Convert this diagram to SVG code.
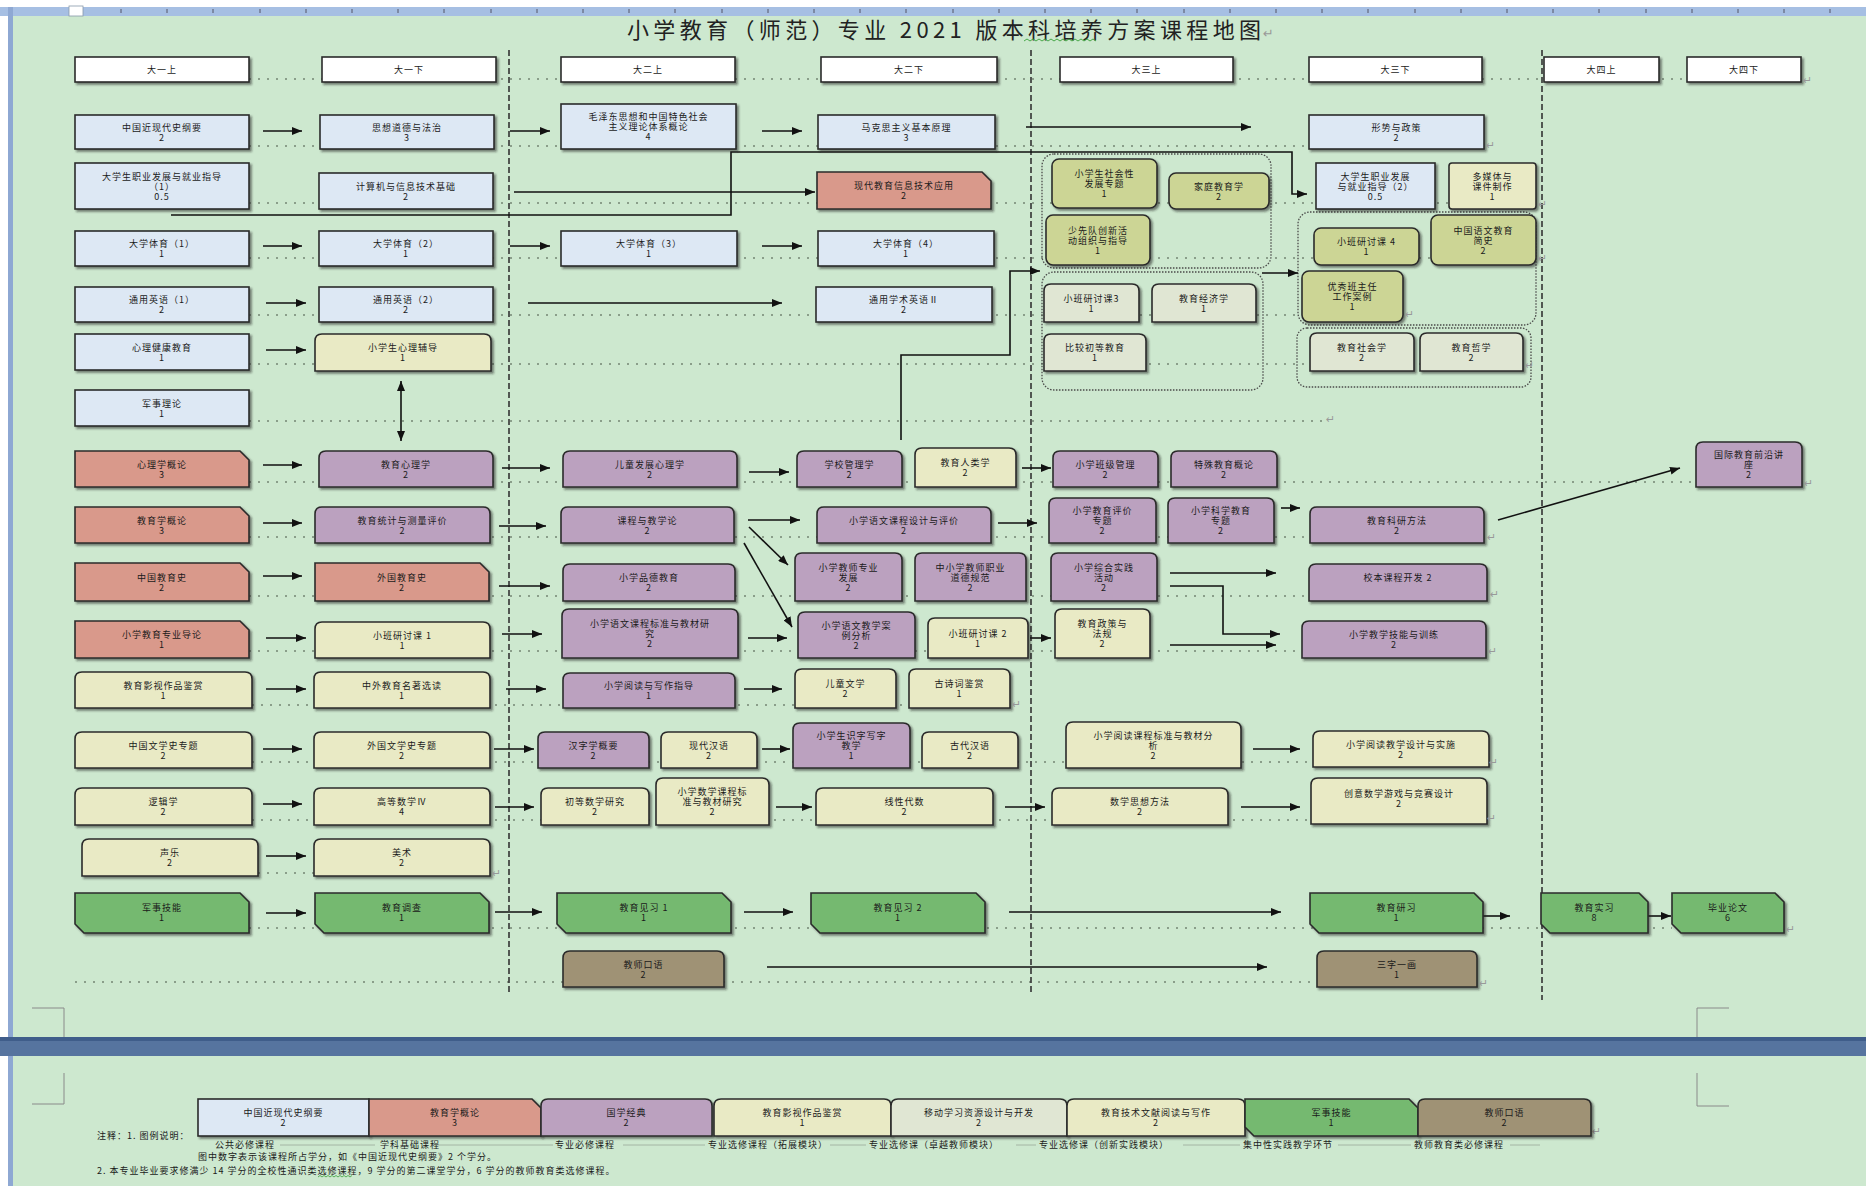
<svg xmlns="http://www.w3.org/2000/svg" width="1866" height="1186" viewBox="0 0 1866 1186">
<defs>
<style>
.n{stroke:#2b2b2b;stroke-width:1.6;filter:url(#sh)}
.lb{fill:#dde8f4}.sa{fill:#d9998b}.pu{fill:#bba1bf}.ye{fill:#e9eac5}.ol{fill:#ccd595}.gg{fill:#e0e6d3}.gr{fill:#74b970}.br{fill:#9f9274}.wh{fill:#ffffff}
.t{font-family:"Noto Sans CJK SC","Noto Sans",sans-serif;font-size:9px;letter-spacing:1px;fill:#1a1a1a;text-anchor:middle}
.tl{font-family:"Noto Sans CJK SC","Noto Sans",sans-serif;font-size:9px;letter-spacing:1px;fill:#1a1a1a}
.c{fill:none;stroke:#111;stroke-width:1.6}
.ld{fill:none;stroke:#8a9e8a;stroke-width:2;stroke-dasharray:2 7}
.sep{fill:none;stroke:#333;stroke-width:1.6;stroke-dasharray:6 3}
.grp{fill:none;stroke:#4a4a4a;stroke-width:1.3;stroke-dasharray:1.5 1.5}
.pm{font-family:"DejaVu Sans",sans-serif;font-size:11px;fill:#999}
.cm{fill:none;stroke:#8a8a8a;stroke-width:1}
</style>
<filter id="sh" x="-10%" y="-10%" width="125%" height="135%">
<feDropShadow dx="2" dy="2" stdDeviation="0.8" flood-color="#222" flood-opacity="0.55"/>
</filter>
<marker id="ah" markerWidth="10" markerHeight="8" refX="10" refY="4" orient="auto-start-reverse" markerUnits="userSpaceOnUse">
<path d="M0,0 L10,4 L0,8 Z" fill="#111"/>
</marker>
</defs>

<!-- page background -->
<rect x="0" y="0" width="1866" height="1186" fill="#ffffff"/>
<rect x="13" y="16" width="1853" height="1021" fill="#cde8cf"/>
<rect x="13" y="1056" width="1853" height="130" fill="#cde8cf"/>
<rect x="0" y="7" width="1866" height="9" fill="#a6bfe3"/>
<path d="M121,9v4M167,9v4M213,9v4M260,9v4M306,9v4M352,9v4M398,9v4M444,9v4M491,9v4M537,9v4M583,9v4M629,9v4M675,9v4M722,9v4M768,9v4M814,9v4M860,9v4M906,9v4M953,9v4M999,9v4M1045,9v4M1091,9v4M1137,9v4M1184,9v4M1230,9v4M1276,9v4M1322,9v4M1368,9v4M1415,9v4M1461,9v4M1507,9v4M1553,9v4M1599,9v4M1646,9v4M1692,9v4M1738,9v4M1784,9v4M1830,9v4" stroke="#556" stroke-width="1"/>
<rect x="69" y="6" width="14" height="10" fill="#ffffff" stroke="#8899aa" stroke-width="0.8"/>
<rect x="8" y="7" width="5" height="1030" fill="#8ea8d3"/>
<rect x="8" y="1056" width="5" height="130" fill="#8ea8d3"/>
<rect x="0" y="1037" width="1866" height="19" fill="#56749f"/>
<rect x="0" y="1037" width="1866" height="4" fill="#3f5d8a"/>

<!-- corner marks -->
<path class="cm" d="M32,1008 H64 V1037 M1729,1008 H1697 V1037 M64,1073 V1104 H32 M1697,1073 V1106 H1729"/>

<!-- title -->
<text x="627" y="38" textLength="634" lengthAdjust="spacing" style="font-family:'Noto Sans CJK SC','Noto Sans',sans-serif;font-size:22px;fill:#222">小学教育（师范）专业 2021 版本科培养方案课程地图</text>
<text class="pm" x="1263" y="38" style="font-size:13px">↵</text>
<path d="M1024,41 l3,-2 3,2 3,-2 3,2 3,-2 3,2 3,-2 3,2 3,-2 3,2 3,-2 3,2 3,-2 3,2 3,-2 3,2 3,-2 3,2 3,-2 3,2 3,-2 3,2 3,-2 3,2" fill="none" stroke="#3aa03a" stroke-width="0.9"/>

<!-- row leader dotted lines -->
<g id="leaders">
<path class="ld" d="M249,79 H1687"/>
<path class="ld" d="M249,146 H1309"/>
<path class="ld" d="M249,203 H1449"/>
<path class="ld" d="M249,258 H1431"/>
<path class="ld" d="M249,315 H1302"/>
<path class="ld" d="M249,364 H1420"/>
<path class="ld" d="M249,421 H1326"/>
<path class="ld" d="M249,482 H1696"/>
<path class="ld" d="M249,537 H1310"/>
<path class="ld" d="M249,596 H1309"/>
<path class="ld" d="M249,651 H1302"/>
<path class="ld" d="M252,705 H1010"/>
<path class="ld" d="M252,762 H1313"/>
<path class="ld" d="M252,820 H1311"/>
<path class="ld" d="M258,873 H314"/>
<path class="ld" d="M249,928 H1672"/>
<path class="ld" d="M75,982 H1317"/>
</g>

<!-- semester separators -->
<g id="separators">
<path class="sep" d="M509,50 V995"/>
<path class="sep" d="M1031,50 V995"/>
<path class="sep" d="M1542,50 V1000"/>
</g>

<!-- elective groups -->
<g id="groups">
<rect class="grp" x="1042" y="154" width="229" height="114" rx="12"/>
<rect class="grp" x="1042" y="272" width="221" height="118" rx="12"/>
<rect class="grp" x="1298" y="212" width="238" height="113" rx="12"/>
<rect class="grp" x="1297" y="328" width="234" height="59" rx="10"/>
</g>

<!-- connectors -->
<g id="connectors" class="c">
<path d="M263,131 H302" marker-end="url(#ah)"/>
<path d="M510,131 H550" marker-end="url(#ah)"/>
<path d="M762,131 H802" marker-end="url(#ah)"/>
<path d="M1026,127 H1251" marker-end="url(#ah)"/>
<path d="M171,215 H731 V152 H1292 V194 H1307" marker-end="url(#ah)"/>
<path d="M514,192 H815" marker-end="url(#ah)"/>
<path d="M263,246 H302" marker-end="url(#ah)"/>
<path d="M510,246 H550" marker-end="url(#ah)"/>
<path d="M762,246 H802" marker-end="url(#ah)"/>
<path d="M266,303 H306" marker-end="url(#ah)"/>
<path d="M528,303 H782" marker-end="url(#ah)"/>
<path d="M266,350 H306" marker-end="url(#ah)"/>
<path d="M401,381 V441" marker-start="url(#ah)" marker-end="url(#ah)"/>
<path d="M901,440 V355 H1010 V271 H1040" marker-end="url(#ah)"/>
<path d="M1262,273 H1298" marker-end="url(#ah)"/>
<path d="M263,465 H302" marker-end="url(#ah)"/>
<path d="M502,468 H550" marker-end="url(#ah)"/>
<path d="M749,472 H789" marker-end="url(#ah)"/>
<path d="M1022,468 H1051" marker-end="url(#ah)"/>
<path d="M263,523 H302" marker-end="url(#ah)"/>
<path d="M499,526 H546" marker-end="url(#ah)"/>
<path d="M748,520 H800" marker-end="url(#ah)"/>
<path d="M998,523 H1037" marker-end="url(#ah)"/>
<path d="M1281,508 H1300" marker-end="url(#ah)"/>
<path d="M1498,520 L1680,468" marker-end="url(#ah)"/>
<path d="M749,527 L788,565" marker-end="url(#ah)"/>
<path d="M744,543 L792,627" marker-end="url(#ah)"/>
<path d="M263,576 H302" marker-end="url(#ah)"/>
<path d="M499,586 H550" marker-end="url(#ah)"/>
<path d="M1170,573 H1276" marker-end="url(#ah)"/>
<path d="M1170,586 H1223 V634 H1280" marker-end="url(#ah)"/>
<path d="M266,638 H306" marker-end="url(#ah)"/>
<path d="M502,634 H542" marker-end="url(#ah)"/>
<path d="M748,638 H787" marker-end="url(#ah)"/>
<path d="M1030,638 H1051" marker-end="url(#ah)"/>
<path d="M1170,645 H1276" marker-end="url(#ah)"/>
<path d="M266,689 H306" marker-end="url(#ah)"/>
<path d="M506,689 H546" marker-end="url(#ah)"/>
<path d="M744,689 H782" marker-end="url(#ah)"/>
<path d="M263,749 H302" marker-end="url(#ah)"/>
<path d="M494,749 H534" marker-end="url(#ah)"/>
<path d="M762,749 H790" marker-end="url(#ah)"/>
<path d="M1253,749 H1300" marker-end="url(#ah)"/>
<path d="M263,804 H302" marker-end="url(#ah)"/>
<path d="M495,807 H534" marker-end="url(#ah)"/>
<path d="M776,807 H812" marker-end="url(#ah)"/>
<path d="M1005,807 H1045" marker-end="url(#ah)"/>
<path d="M1241,807 H1300" marker-end="url(#ah)"/>
<path d="M266,856 H306" marker-end="url(#ah)"/>
<path d="M266,913 H306" marker-end="url(#ah)"/>
<path d="M495,912 H542" marker-end="url(#ah)"/>
<path d="M744,912 H793" marker-end="url(#ah)"/>
<path d="M1009,912 H1281" marker-end="url(#ah)"/>
<path d="M1483,916 H1510" marker-end="url(#ah)"/>
<path d="M1648,916 H1671" marker-end="url(#ah)"/>
<path d="M767,967 H1267" marker-end="url(#ah)"/>
</g>

<!-- semester headers -->
<g id="h1"><rect class="n wh" x="75" y="57" width="174" height="25"/><text class="t" x="162" y="72.5">大一上</text></g>
<g id="h2"><rect class="n wh" x="322" y="57" width="174" height="25"/><text class="t" x="409" y="72.5">大一下</text></g>
<g id="h3"><rect class="n wh" x="561" y="57" width="174" height="25"/><text class="t" x="648" y="72.5">大二上</text></g>
<g id="h4"><rect class="n wh" x="821" y="57" width="176" height="25"/><text class="t" x="909" y="72.5">大二下</text></g>
<g id="h5"><rect class="n wh" x="1060" y="57" width="173" height="25"/><text class="t" x="1146.5" y="72.5">大三上</text></g>
<g id="h6"><rect class="n wh" x="1309" y="57" width="173" height="25"/><text class="t" x="1395.5" y="72.5">大三下</text></g>
<g id="h7"><rect class="n wh" x="1544" y="57" width="115" height="25"/><text class="t" x="1601.5" y="72.5">大四上</text></g>
<g id="h8"><rect class="n wh" x="1687" y="57" width="114" height="25"/><text class="t" x="1744" y="72.5">大四下</text></g>

<!-- nodes -->
<g id="n1"><rect class="n lb" x="75" y="115" width="174" height="34"/><text class="t" x="162" y="130.5">中国近现代史纲要<tspan x="162" dy="10">2</tspan></text></g>
<g id="n2"><rect class="n lb" x="320" y="115" width="174" height="34"/><text class="t" x="407" y="130.5">思想道德与法治<tspan x="407" dy="10">3</tspan></text></g>
<g id="n3"><rect class="n lb" x="561" y="104" width="175" height="45"/><text class="t" x="648.5" y="120">毛泽东思想和中国特色社会<tspan x="648.5" dy="10">主义理论体系概论</tspan><tspan x="648.5" dy="10">4</tspan></text></g>
<g id="n4"><rect class="n lb" x="818" y="115" width="177" height="34"/><text class="t" x="906.5" y="130.5">马克思主义基本原理<tspan x="906.5" dy="10">3</tspan></text></g>
<g id="n5"><rect class="n lb" x="1309" y="115" width="175" height="34"/><text class="t" x="1396.5" y="130.5">形势与政策<tspan x="1396.5" dy="10">2</tspan></text></g>

<g id="n6"><rect class="n lb" x="75" y="163" width="174" height="46"/><text class="t" x="162" y="179.5">大学生职业发展与就业指导<tspan x="162" dy="10">（1）</tspan><tspan x="162" dy="10">0.5</tspan></text></g>
<g id="n7"><rect class="n lb" x="319" y="173" width="174" height="36"/><text class="t" x="406" y="189.5">计算机与信息技术基础<tspan x="406" dy="10">2</tspan></text></g>
<g id="n8"><path class="n sa" d="M817,172 H982 L991,181 V209 H817 Z"/><text class="t" x="904" y="189">现代教育信息技术应用<tspan x="904" dy="10">2</tspan></text></g>
<g id="n9"><rect class="n ol" x="1052" y="159" width="105" height="49" rx="7"/><text class="t" x="1104.5" y="177">小学生社会性<tspan x="1104.5" dy="10">发展专题</tspan><tspan x="1104.5" dy="10">1</tspan></text></g>
<g id="n10"><rect class="n ol" x="1169" y="173" width="100" height="36" rx="7"/><text class="t" x="1219" y="189.5">家庭教育学<tspan x="1219" dy="10">2</tspan></text></g>
<g id="n11"><rect class="n ol" x="1046" y="215" width="104" height="50" rx="7"/><text class="t" x="1098" y="233.5">少先队创新活<tspan x="1098" dy="10">动组织与指导</tspan><tspan x="1098" dy="10">1</tspan></text></g>
<g id="n12"><rect class="n lb" x="1316" y="163" width="119" height="46"/><text class="t" x="1375.5" y="179.5">大学生职业发展<tspan x="1375.5" dy="10">与就业指导（2）</tspan><tspan x="1375.5" dy="10">0.5</tspan></text></g>
<g id="n13"><rect class="n ye" x="1449" y="163" width="87" height="46" rx="3"/><text class="t" x="1492.5" y="179.5">多媒体与<tspan x="1492.5" dy="10">课件制作</tspan><tspan x="1492.5" dy="10">1</tspan></text></g>

<g id="n14"><rect class="n lb" x="75" y="231" width="174" height="35"/><text class="t" x="162" y="247">大学体育（1）<tspan x="162" dy="10">1</tspan></text></g>
<g id="n15"><rect class="n lb" x="319" y="231" width="174" height="35"/><text class="t" x="406" y="247">大学体育（2）<tspan x="406" dy="10">1</tspan></text></g>
<g id="n16"><rect class="n lb" x="561" y="231" width="176" height="35"/><text class="t" x="649" y="247">大学体育（3）<tspan x="649" dy="10">1</tspan></text></g>
<g id="n17"><rect class="n lb" x="818" y="231" width="176" height="35"/><text class="t" x="906" y="247">大学体育（4）<tspan x="906" dy="10">1</tspan></text></g>
<g id="n18"><rect class="n ol" x="1314" y="228" width="105" height="37" rx="7"/><text class="t" x="1366.5" y="245">小班研讨课 4<tspan x="1366.5" dy="10">1</tspan></text></g>
<g id="n19"><rect class="n ol" x="1431" y="215" width="105" height="50" rx="7"/><text class="t" x="1483.5" y="233.5">中国语文教育<tspan x="1483.5" dy="10">简史</tspan><tspan x="1483.5" dy="10">2</tspan></text></g>
<g id="n20"><rect class="n ol" x="1302" y="271" width="101" height="51" rx="7"/><text class="t" x="1352.5" y="290">优秀班主任<tspan x="1352.5" dy="10">工作案例</tspan><tspan x="1352.5" dy="10">1</tspan></text></g>

<g id="n21"><rect class="n lb" x="75" y="287" width="174" height="35"/><text class="t" x="162" y="303">通用英语（1）<tspan x="162" dy="10">2</tspan></text></g>
<g id="n22"><rect class="n lb" x="319" y="287" width="174" height="35"/><text class="t" x="406" y="303">通用英语（2）<tspan x="406" dy="10">2</tspan></text></g>
<g id="n23"><rect class="n lb" x="816" y="287" width="176" height="35"/><text class="t" x="904" y="303">通用学术英语Ⅱ<tspan x="904" dy="10">2</tspan></text></g>
<g id="n24"><path class="n gg" d="M1044,322 V291 Q1044,284 1051,284 H1132 Q1139,284 1139,291 V322 Z"/><text class="t" x="1091.5" y="301.5">小班研讨课3<tspan x="1091.5" dy="10">1</tspan></text></g>
<g id="n25"><path class="n gg" d="M1152,322 V291 Q1152,284 1159,284 H1249 Q1256,284 1256,291 V322 Z"/><text class="t" x="1204" y="301.5">教育经济学<tspan x="1204" dy="10">1</tspan></text></g>
<g id="n26"><path class="n gg" d="M1310,371 V340 Q1310,333 1317,333 H1407 Q1414,333 1414,340 V371 Z"/><text class="t" x="1362" y="350.5">教育社会学<tspan x="1362" dy="10">2</tspan></text></g>
<g id="n27"><path class="n gg" d="M1420,371 V340 Q1420,333 1427,333 H1516 Q1523,333 1523,340 V371 Z"/><text class="t" x="1471.5" y="350.5">教育哲学<tspan x="1471.5" dy="10">2</tspan></text></g>

<g id="n28"><rect class="n lb" x="75" y="334" width="174" height="36"/><text class="t" x="162" y="350.5">心理健康教育<tspan x="162" dy="10">1</tspan></text></g>
<g id="n29"><path class="n ye" d="M315,371 V341 Q315,334 322,334 H484 Q491,334 491,341 V371 Z"/><text class="t" x="403" y="351">小学生心理辅导<tspan x="403" dy="10">1</tspan></text></g>
<g id="n30"><path class="n gg" d="M1044,371 V341 Q1044,334 1051,334 H1139 Q1146,334 1146,341 V371 Z"/><text class="t" x="1095" y="351">比较初等教育<tspan x="1095" dy="10">1</tspan></text></g>
<g id="n31"><rect class="n lb" x="75" y="390" width="174" height="36"/><text class="t" x="162" y="406.5">军事理论<tspan x="162" dy="10">1</tspan></text></g>

<g id="n32"><path class="n sa" d="M75,451 H240 L249,460 V487 H75 Z"/><text class="t" x="162" y="467.5">心理学概论<tspan x="162" dy="10">3</tspan></text></g>
<g id="n33"><path class="n pu" d="M319,487 V458 Q319,451 326,451 H486 Q493,451 493,458 V487 Z"/><text class="t" x="406" y="467.5">教育心理学<tspan x="406" dy="10">2</tspan></text></g>
<g id="n34"><path class="n pu" d="M563,487 V458 Q563,451 570,451 H730 Q737,451 737,458 V487 Z"/><text class="t" x="650" y="467.5">儿童发展心理学<tspan x="650" dy="10">2</tspan></text></g>
<g id="n35"><path class="n pu" d="M797,487 V458 Q797,451 804,451 H895 Q902,451 902,458 V487 Z"/><text class="t" x="849.5" y="467.5">学校管理学<tspan x="849.5" dy="10">2</tspan></text></g>
<g id="n36"><path class="n ye" d="M915,487 V455 Q915,448 922,448 H1009 Q1016,448 1016,455 V487 Z"/><text class="t" x="965.5" y="466">教育人类学<tspan x="965.5" dy="10">2</tspan></text></g>
<g id="n37"><path class="n pu" d="M1053,487 V458 Q1053,451 1060,451 H1151 Q1158,451 1158,458 V487 Z"/><text class="t" x="1105.5" y="467.5">小学班级管理<tspan x="1105.5" dy="10">2</tspan></text></g>
<g id="n38"><path class="n pu" d="M1171,487 V458 Q1171,451 1178,451 H1270 Q1277,451 1277,458 V487 Z"/><text class="t" x="1224" y="467.5">特殊教育概论<tspan x="1224" dy="10">2</tspan></text></g>
<g id="n39"><path class="n pu" d="M1696,487 V449 Q1696,442 1703,442 H1795 Q1802,442 1802,449 V487 Z"/><text class="t" x="1749" y="458">国际教育前沿讲<tspan x="1749" dy="10">座</tspan><tspan x="1749" dy="10">2</tspan></text></g>

<g id="n40"><path class="n sa" d="M75,507 H240 L249,516 V543 H75 Z"/><text class="t" x="162" y="523.5">教育学概论<tspan x="162" dy="10">3</tspan></text></g>
<g id="n41"><path class="n pu" d="M315,543 V514 Q315,507 322,507 H483 Q490,507 490,514 V543 Z"/><text class="t" x="402.5" y="523.5">教育统计与测量评价<tspan x="402.5" dy="10">2</tspan></text></g>
<g id="n42"><path class="n pu" d="M561,543 V514 Q561,507 568,507 H727 Q734,507 734,514 V543 Z"/><text class="t" x="647.5" y="523.5">课程与教学论<tspan x="647.5" dy="10">2</tspan></text></g>
<g id="n43"><path class="n pu" d="M817,543 V514 Q817,507 824,507 H984 Q991,507 991,514 V543 Z"/><text class="t" x="904" y="523.5">小学语文课程设计与评价<tspan x="904" dy="10">2</tspan></text></g>
<g id="n44"><path class="n pu" d="M1049,543 V505 Q1049,498 1056,498 H1149 Q1156,498 1156,505 V543 Z"/><text class="t" x="1102.5" y="514">小学教育评价<tspan x="1102.5" dy="10">专题</tspan><tspan x="1102.5" dy="10">2</tspan></text></g>
<g id="n45"><path class="n pu" d="M1168,543 V505 Q1168,498 1175,498 H1267 Q1274,498 1274,505 V543 Z"/><text class="t" x="1221" y="514">小学科学教育<tspan x="1221" dy="10">专题</tspan><tspan x="1221" dy="10">2</tspan></text></g>
<g id="n46"><path class="n pu" d="M1310,543 V514 Q1310,507 1317,507 H1477 Q1484,507 1484,514 V543 Z"/><text class="t" x="1397" y="523.5">教育科研方法<tspan x="1397" dy="10">2</tspan></text></g>

<g id="n47"><path class="n sa" d="M75,563 H240 L249,572 V601 H75 Z"/><text class="t" x="162" y="580.5">中国教育史<tspan x="162" dy="10">2</tspan></text></g>
<g id="n48"><path class="n sa" d="M315,563 H480 L489,572 V601 H315 Z"/><text class="t" x="402" y="580.5">外国教育史<tspan x="402" dy="10">2</tspan></text></g>
<g id="n49"><path class="n pu" d="M563,601 V571 Q563,564 570,564 H728 Q735,564 735,571 V601 Z"/><text class="t" x="649" y="581">小学品德教育<tspan x="649" dy="10">2</tspan></text></g>
<g id="n50"><path class="n pu" d="M795,601 V560 Q795,553 802,553 H895 Q902,553 902,560 V601 Z"/><text class="t" x="848.5" y="570.5">小学教师专业<tspan x="848.5" dy="10">发展</tspan><tspan x="848.5" dy="10">2</tspan></text></g>
<g id="n51"><path class="n pu" d="M915,601 V560 Q915,553 922,553 H1019 Q1026,553 1026,560 V601 Z"/><text class="t" x="970.5" y="570.5">中小学教师职业<tspan x="970.5" dy="10">道德规范</tspan><tspan x="970.5" dy="10">2</tspan></text></g>
<g id="n52"><path class="n pu" d="M1051,601 V560 Q1051,553 1058,553 H1150 Q1157,553 1157,560 V601 Z"/><text class="t" x="1104" y="570.5">小学综合实践<tspan x="1104" dy="10">活动</tspan><tspan x="1104" dy="10">2</tspan></text></g>
<g id="n53"><path class="n pu" d="M1309,601 V571 Q1309,564 1316,564 H1480 Q1487,564 1487,571 V601 Z"/><text class="t" x="1398" y="581">校本课程开发 2</text></g>

<g id="n54"><path class="n sa" d="M75,621 H240 L249,630 V658 H75 Z"/><text class="t" x="162" y="638">小学教育专业导论<tspan x="162" dy="10">1</tspan></text></g>
<g id="n55"><path class="n ye" d="M315,658 V629 Q315,622 322,622 H483 Q490,622 490,629 V658 Z"/><text class="t" x="402.5" y="638.5">小班研讨课 1<tspan x="402.5" dy="10">1</tspan></text></g>
<g id="n56"><path class="n pu" d="M562,658 V616 Q562,609 569,609 H731 Q738,609 738,616 V658 Z"/><text class="t" x="650" y="627">小学语文课程标准与教材研<tspan x="650" dy="10">究</tspan><tspan x="650" dy="10">2</tspan></text></g>
<g id="n57"><path class="n pu" d="M798,658 V619 Q798,612 805,612 H908 Q915,612 915,619 V658 Z"/><text class="t" x="856.5" y="628.5">小学语文教学案<tspan x="856.5" dy="10">例分析</tspan><tspan x="856.5" dy="10">2</tspan></text></g>
<g id="n58"><path class="n ye" d="M928,658 V625 Q928,618 935,618 H1021 Q1028,618 1028,625 V658 Z"/><text class="t" x="978" y="636.5">小班研讨课 2<tspan x="978" dy="10">1</tspan></text></g>
<g id="n59"><path class="n ye" d="M1055,658 V616 Q1055,609 1062,609 H1143 Q1150,609 1150,616 V658 Z"/><text class="t" x="1102.5" y="627">教育政策与<tspan x="1102.5" dy="10">法规</tspan><tspan x="1102.5" dy="10">2</tspan></text></g>
<g id="n60"><path class="n pu" d="M1302,658 V628 Q1302,621 1309,621 H1479 Q1486,621 1486,628 V658 Z"/><text class="t" x="1394" y="638">小学教学技能与训练<tspan x="1394" dy="10">2</tspan></text></g>

<g id="n61"><path class="n ye" d="M75,708 V679 Q75,672 82,672 H245 Q252,672 252,679 V708 Z"/><text class="t" x="163.5" y="688.5">教育影视作品鉴赏<tspan x="163.5" dy="10">1</tspan></text></g>
<g id="n62"><path class="n ye" d="M314,708 V679 Q314,672 321,672 H483 Q490,672 490,679 V708 Z"/><text class="t" x="402" y="688.5">中外教育名著选读<tspan x="402" dy="10">1</tspan></text></g>
<g id="n63"><path class="n pu" d="M563,708 V680 Q563,673 570,673 H728 Q735,673 735,680 V708 Z"/><text class="t" x="649" y="689">小学阅读与写作指导<tspan x="649" dy="10">1</tspan></text></g>
<g id="n64"><path class="n ye" d="M795,708 V676 Q795,669 802,669 H889 Q896,669 896,676 V708 Z"/><text class="t" x="845.5" y="687">儿童文学<tspan x="845.5" dy="10">2</tspan></text></g>
<g id="n65"><path class="n ye" d="M909,708 V676 Q909,669 916,669 H1003 Q1010,669 1010,676 V708 Z"/><text class="t" x="959.5" y="687">古诗词鉴赏<tspan x="959.5" dy="10">1</tspan></text></g>

<g id="n66"><path class="n ye" d="M75,768 V739 Q75,732 82,732 H245 Q252,732 252,739 V768 Z"/><text class="t" x="163.5" y="748.5">中国文学史专题<tspan x="163.5" dy="10">2</tspan></text></g>
<g id="n67"><path class="n ye" d="M314,768 V739 Q314,732 321,732 H483 Q490,732 490,739 V768 Z"/><text class="t" x="402" y="748.5">外国文学史专题<tspan x="402" dy="10">2</tspan></text></g>
<g id="n68"><path class="n pu" d="M538,768 V739 Q538,732 545,732 H642 Q649,732 649,739 V768 Z"/><text class="t" x="593.5" y="748.5">汉字学概要<tspan x="593.5" dy="10">2</tspan></text></g>
<g id="n69"><path class="n ye" d="M661,768 V739 Q661,732 668,732 H750 Q757,732 757,739 V768 Z"/><text class="t" x="709" y="748.5">现代汉语<tspan x="709" dy="10">2</tspan></text></g>
<g id="n70"><path class="n pu" d="M793,768 V730 Q793,723 800,723 H903 Q910,723 910,730 V768 Z"/><text class="t" x="851.5" y="739">小学生识字写字<tspan x="851.5" dy="10">教学</tspan><tspan x="851.5" dy="10">1</tspan></text></g>
<g id="n71"><path class="n ye" d="M922,768 V739 Q922,732 929,732 H1011 Q1018,732 1018,739 V768 Z"/><text class="t" x="970" y="748.5">古代汉语<tspan x="970" dy="10">2</tspan></text></g>
<g id="n72"><path class="n ye" d="M1066,768 V729 Q1066,722 1073,722 H1234 Q1241,722 1241,729 V768 Z"/><text class="t" x="1153.5" y="738.5">小学阅读课程标准与教材分<tspan x="1153.5" dy="10">析</tspan><tspan x="1153.5" dy="10">2</tspan></text></g>
<g id="n73"><path class="n ye" d="M1313,767 V738 Q1313,731 1320,731 H1482 Q1489,731 1489,738 V767 Z"/><text class="t" x="1401" y="747.5">小学阅读教学设计与实施<tspan x="1401" dy="10">2</tspan></text></g>

<g id="n74"><path class="n ye" d="M75,825 V795 Q75,788 82,788 H245 Q252,788 252,795 V825 Z"/><text class="t" x="163.5" y="805">逻辑学<tspan x="163.5" dy="10">2</tspan></text></g>
<g id="n75"><path class="n ye" d="M314,825 V795 Q314,788 321,788 H483 Q490,788 490,795 V825 Z"/><text class="t" x="402" y="805">高等数学Ⅳ<tspan x="402" dy="10">4</tspan></text></g>
<g id="n76"><path class="n ye" d="M541,825 V795 Q541,788 548,788 H642 Q649,788 649,795 V825 Z"/><text class="t" x="595" y="805">初等数学研究<tspan x="595" dy="10">2</tspan></text></g>
<g id="n77"><path class="n ye" d="M656,825 V785 Q656,778 663,778 H762 Q769,778 769,785 V825 Z"/><text class="t" x="712.5" y="795">小学数学课程标<tspan x="712.5" dy="10">准与教材研究</tspan><tspan x="712.5" dy="10">2</tspan></text></g>
<g id="n78"><path class="n ye" d="M816,825 V795 Q816,788 823,788 H986 Q993,788 993,795 V825 Z"/><text class="t" x="904.5" y="805">线性代数<tspan x="904.5" dy="10">2</tspan></text></g>
<g id="n79"><path class="n ye" d="M1052,825 V795 Q1052,788 1059,788 H1221 Q1228,788 1228,795 V825 Z"/><text class="t" x="1140" y="805">数学思想方法<tspan x="1140" dy="10">2</tspan></text></g>
<g id="n80"><path class="n ye" d="M1311,824 V785 Q1311,778 1318,778 H1480 Q1487,778 1487,785 V824 Z"/><text class="t" x="1399" y="797">创意数学游戏与竞赛设计<tspan x="1399" dy="10">2</tspan></text></g>

<g id="n81"><path class="n ye" d="M82,876 V846 Q82,839 89,839 H251 Q258,839 258,846 V876 Z"/><text class="t" x="170" y="856">声乐<tspan x="170" dy="10">2</tspan></text></g>
<g id="n82"><path class="n ye" d="M314,876 V846 Q314,839 321,839 H483 Q490,839 490,846 V876 Z"/><text class="t" x="402" y="856">美术<tspan x="402" dy="10">2</tspan></text></g>

<g id="n83"><path class="n gr" d="M75,893 H240 L249,902 V933 H84 L75,924 Z"/><text class="t" x="162" y="910.5">军事技能<tspan x="162" dy="10">1</tspan></text></g>
<g id="n84"><path class="n gr" d="M315,893 H480 L489,902 V933 H324 L315,924 Z"/><text class="t" x="402" y="910.5">教育调查<tspan x="402" dy="10">1</tspan></text></g>
<g id="n85"><path class="n gr" d="M557,893 H722 L731,902 V933 H566 L557,924 Z"/><text class="t" x="644" y="910.5">教育见习 1<tspan x="644" dy="10">1</tspan></text></g>
<g id="n86"><path class="n gr" d="M811,893 H976 L985,902 V933 H820 L811,924 Z"/><text class="t" x="898" y="910.5">教育见习 2<tspan x="898" dy="10">1</tspan></text></g>
<g id="n87"><path class="n gr" d="M1310,893 H1474 L1483,902 V933 H1319 L1310,924 Z"/><text class="t" x="1396.5" y="910.5">教育研习<tspan x="1396.5" dy="10">1</tspan></text></g>
<g id="n88"><path class="n gr" d="M1541,893 H1639 L1648,902 V933 H1550 L1541,924 Z"/><text class="t" x="1594.5" y="910.5">教育实习<tspan x="1594.5" dy="10">8</tspan></text></g>
<g id="n89"><path class="n gr" d="M1672,893 H1775 L1784,902 V933 H1681 L1672,924 Z"/><text class="t" x="1728" y="910.5">毕业论文<tspan x="1728" dy="10">6</tspan></text></g>

<g id="n90"><path class="n br" d="M563,987 V958 Q563,951 570,951 H717 Q724,951 724,958 V987 Z"/><text class="t" x="643.5" y="967.5">教师口语<tspan x="643.5" dy="10">2</tspan></text></g>
<g id="n91"><path class="n br" d="M1317,987 V958 Q1317,951 1324,951 H1470 Q1477,951 1477,958 V987 Z"/><text class="t" x="1397" y="967.5">三字一画<tspan x="1397" dy="10">1</tspan></text></g>

<!-- paragraph marks -->
<g id="marks">
<text class="pm" x="1803" y="84">↵</text>
<text class="pm" x="1486" y="149">↵</text>
<text class="pm" x="1538" y="208">↵</text>
<text class="pm" x="1538" y="262">↵</text>
<text class="pm" x="1405" y="318">↵</text>
<text class="pm" x="1525" y="369">↵</text>
<text class="pm" x="1326" y="423">↵</text>
<text class="pm" x="1804" y="487">↵</text>
<text class="pm" x="1487" y="541">↵</text>
<text class="pm" x="1490" y="598">↵</text>
<text class="pm" x="1488" y="655">↵</text>
<text class="pm" x="1012" y="708">↵</text>
<text class="pm" x="1489" y="766">↵</text>
<text class="pm" x="1487" y="822">↵</text>
<text class="pm" x="492" y="877">↵</text>
<text class="pm" x="1786" y="933">↵</text>
<text class="pm" x="1479" y="987">↵</text>
<text class="pm" x="1592" y="1135">↵</text>
</g>

<!-- legend -->
<g id="legend">
<text class="tl" x="97" y="1139">注释：1. 图例说明：</text>
<g id="l1"><rect class="n lb" x="198" y="1099" width="171" height="37"/><text class="t" x="283.5" y="1116">中国近现代史纲要<tspan x="283.5" dy="10">2</tspan></text></g>
<g id="l2"><path class="n sa" d="M369,1099 H532 L541,1108 V1136 H369 Z"/><text class="t" x="455" y="1116">教育学概论<tspan x="455" dy="10">3</tspan></text></g>
<g id="l3"><path class="n pu" d="M541,1136 V1106 Q541,1099 548,1099 H705 Q712,1099 712,1106 V1136 Z"/><text class="t" x="626.5" y="1116">国学经典<tspan x="626.5" dy="10">2</tspan></text></g>
<g id="l4"><path class="n ye" d="M714,1136 V1106 Q714,1099 721,1099 H884 Q891,1099 891,1106 V1136 Z"/><text class="t" x="802.5" y="1116">教育影视作品鉴赏<tspan x="802.5" dy="10">1</tspan></text></g>
<g id="l5"><path class="n gg" d="M891,1136 V1106 Q891,1099 898,1099 H1060 Q1067,1099 1067,1106 V1136 Z"/><text class="t" x="979" y="1116">移动学习资源设计与开发<tspan x="979" dy="10">2</tspan></text></g>
<g id="l6"><path class="n ye" d="M1067,1136 V1106 Q1067,1099 1074,1099 H1238 Q1245,1099 1245,1106 V1136 Z"/><text class="t" x="1156" y="1116">教育技术文献阅读与写作<tspan x="1156" dy="10">2</tspan></text></g>
<g id="l7"><path class="n gr" d="M1245,1099 H1409 L1418,1108 V1136 H1254 L1245,1127 Z"/><text class="t" x="1331.5" y="1116">军事技能<tspan x="1331.5" dy="10">1</tspan></text></g>
<g id="l8"><path class="n br" d="M1418,1136 V1106 Q1418,1099 1425,1099 H1584 Q1591,1099 1591,1106 V1136 Z"/><text class="t" x="1504.5" y="1116">教师口语<tspan x="1504.5" dy="10">2</tspan></text></g>
<path d="M280,1145 H375 M433,1145 H553 M623,1145 H705 M830,1145 H866 M1016,1145 H1036 M1183,1145 H1240 M1338,1145 H1411 M1510,1145 H1540" fill="none" stroke="#9aa89a" stroke-width="0.8"/>
<text class="tl" x="215" y="1148">公共必修课程</text>
<text class="tl" x="380" y="1148">学科基础课程</text>
<text class="tl" x="555" y="1148">专业必修课程</text>
<text class="tl" x="708" y="1148">专业选修课程（拓展模块）</text>
<text class="tl" x="869" y="1148">专业选修课（卓越教师模块）</text>
<text class="tl" x="1039" y="1148">专业选修课（创新实践模块）</text>
<text class="tl" x="1243" y="1148">集中性实践教学环节</text>
<text class="tl" x="1414" y="1148">教师教育类必修课程</text>
<text class="tl" x="198" y="1160">图中数字表示该课程所占学分，如《中国近现代史纲要》2 个学分。</text>
<text class="tl" x="97" y="1174">2. 本专业毕业要求修满少 14 学分的全校性通识类选修课程，9 学分的第二课堂学分，6 学分的教师教育类选修课程。</text>
<path d="M318,1177 l2,-1.5 2,1.5 2,-1.5 2,1.5 2,-1.5 2,1.5 2,-1.5 2,1.5 2,-1.5 2,1.5 2,-1.5 2,1.5 2,-1.5 2,1.5 2,-1.5 2,1.5 2,-1.5" fill="none" stroke="#3aa03a" stroke-width="0.8"/>
</g>
</svg>
